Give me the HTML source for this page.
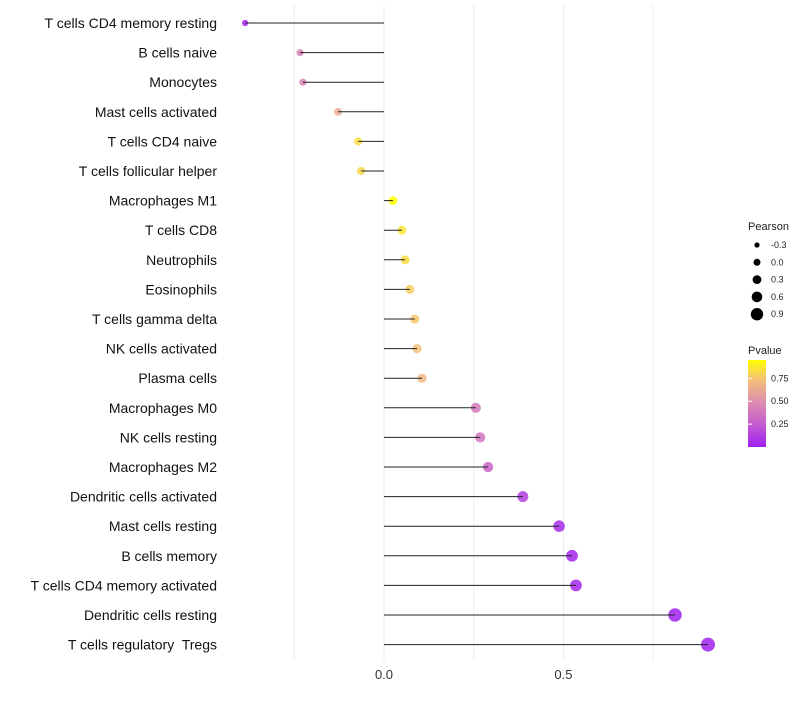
<!DOCTYPE html>
<html><head><meta charset="utf-8"><style>
body{margin:0;background:#fff}
svg{font-family:"Liberation Sans",sans-serif}
text{white-space:pre}
</style></head><body>
<svg id="chart" width="800" height="700">
<defs><linearGradient id="pg" x1="0" y1="1" x2="0" y2="0">
<stop offset="0" stop-color="#a020f0"/><stop offset="0.26" stop-color="#c45cd0"/><stop offset="0.52" stop-color="#de8eb0"/><stop offset="0.77" stop-color="#f4c07a"/><stop offset="1" stop-color="#ffff00"/></linearGradient></defs>
<g id="grid"></g><g id="marks"></g><g id="labels"></g>
<g>
<text x="748" y="230" font-size="11" fill="#222">Pearson</text>
<g id="sizeleg"></g>
</g>
<g>
<text x="748" y="354" font-size="11" fill="#222">Pvalue</text>
<rect x="748" y="360" width="18" height="87" fill="url(#pg)"/>
<g id="cbticks"></g>
</g>
</svg>
<script>
const categories=["T cells CD4 memory resting","B cells naive","Monocytes","Mast cells activated","T cells CD4 naive","T cells follicular helper","Macrophages M1","T cells CD8","Neutrophils","Eosinophils","T cells gamma delta","NK cells activated","Plasma cells","Macrophages M0","NK cells resting","Macrophages M2","Dendritic cells activated","Mast cells resting","B cells memory","T cells CD4 memory activated","Dendritic cells resting","T cells regulatory  Tregs"];
const pearson=[-0.387,-0.234,-0.226,-0.128,-0.072,-0.064,0.025,0.05,0.059,0.072,0.086,0.092,0.106,0.256,0.268,0.29,0.387,0.488,0.524,0.535,0.811,0.903];
const pvalues=[0.02,0.45,0.45,0.65,0.85,0.83,0.97,0.88,0.85,0.8,0.78,0.75,0.7,0.4,0.38,0.3,0.12,0.05,0.03,0.03,0.01,0.005];
const xTicks=[0,0.5];
const xGrid=[-0.25,0,0.25,0.5,0.75];
const sizeLegend=[-0.3,0,0.3,0.6,0.9];
const cbTicks=[0.25,0.5,0.75];
const NS="http://www.w3.org/2000/svg";
const x=v=>384+v*358.8;
const y=i=>23+i*29.6;
const r=p=>Math.max(1.5,4.3+3*p);
const stops=[[0,[160,32,240]],[0.26,[196,92,208]],[0.52,[222,142,176]],[0.77,[244,192,122]],[1,[255,255,0]]];
function col(p){let t=Math.max(0,Math.min(1,p/0.97));for(let k=1;k<stops.length;k++){if(t<=stops[k][0]){const a=stops[k-1],b=stops[k],f=(t-a[0])/(b[0]-a[0]);return `rgb(${a[1].map((c,j)=>Math.round(c+(b[1][j]-c)*f)).join(",")})`;}}return "#ff0";}
function mk(tag,at,parent){const e=document.createElementNS(NS,tag);for(const k in at)e.setAttribute(k,at[k]);document.getElementById(parent).appendChild(e);return e;}
xGrid.forEach(g=>{const l=mk("line",{x1:x(g),x2:x(g),y1:5,y2:660,stroke:"#ebebeb","stroke-width":1},"grid");

});
xTicks.forEach(t=>{const e=mk("text",{x:x(t),y:679,"font-size":13,fill:"#333","text-anchor":"middle"},"labels");e.textContent=t.toFixed(1);

});
categories.forEach((c,i)=>{
const t=mk("text",{x:217,y:y(i)+5,"font-size":14,fill:"#111","text-anchor":"end"},"labels");t.textContent=c;


const pt=mk("circle",{cx:x(pearson[i]),cy:y(i),r:r(pearson[i]),fill:col(pvalues[i]),"fill-opacity":0.85},"marks");


const s=mk("line",{x1:x(0),x2:x(pearson[i]),y1:y(i),y2:y(i),stroke:"#222","stroke-width":1},"marks");


});
sizeLegend.forEach((v,k)=>{const cy=245+k*17.3;
const c=mk("circle",{cx:757,cy:cy,r:r(v)-0.8,fill:"#000"},"sizeleg");


const t=mk("text",{x:771,y:cy+3,"font-size":9,fill:"#222"},"sizeleg");t.textContent=v.toFixed(1);

});
cbTicks.forEach(v=>{const cy=447-v*(87/0.95);
const l=mk("line",{x1:748,x2:752,y1:cy,y2:cy,stroke:"#fff"},"cbticks");


const t=mk("text",{x:771,y:cy+3,"font-size":9,fill:"#222"},"cbticks");t.textContent=v.toFixed(2);

});
</script>
</body></html>
